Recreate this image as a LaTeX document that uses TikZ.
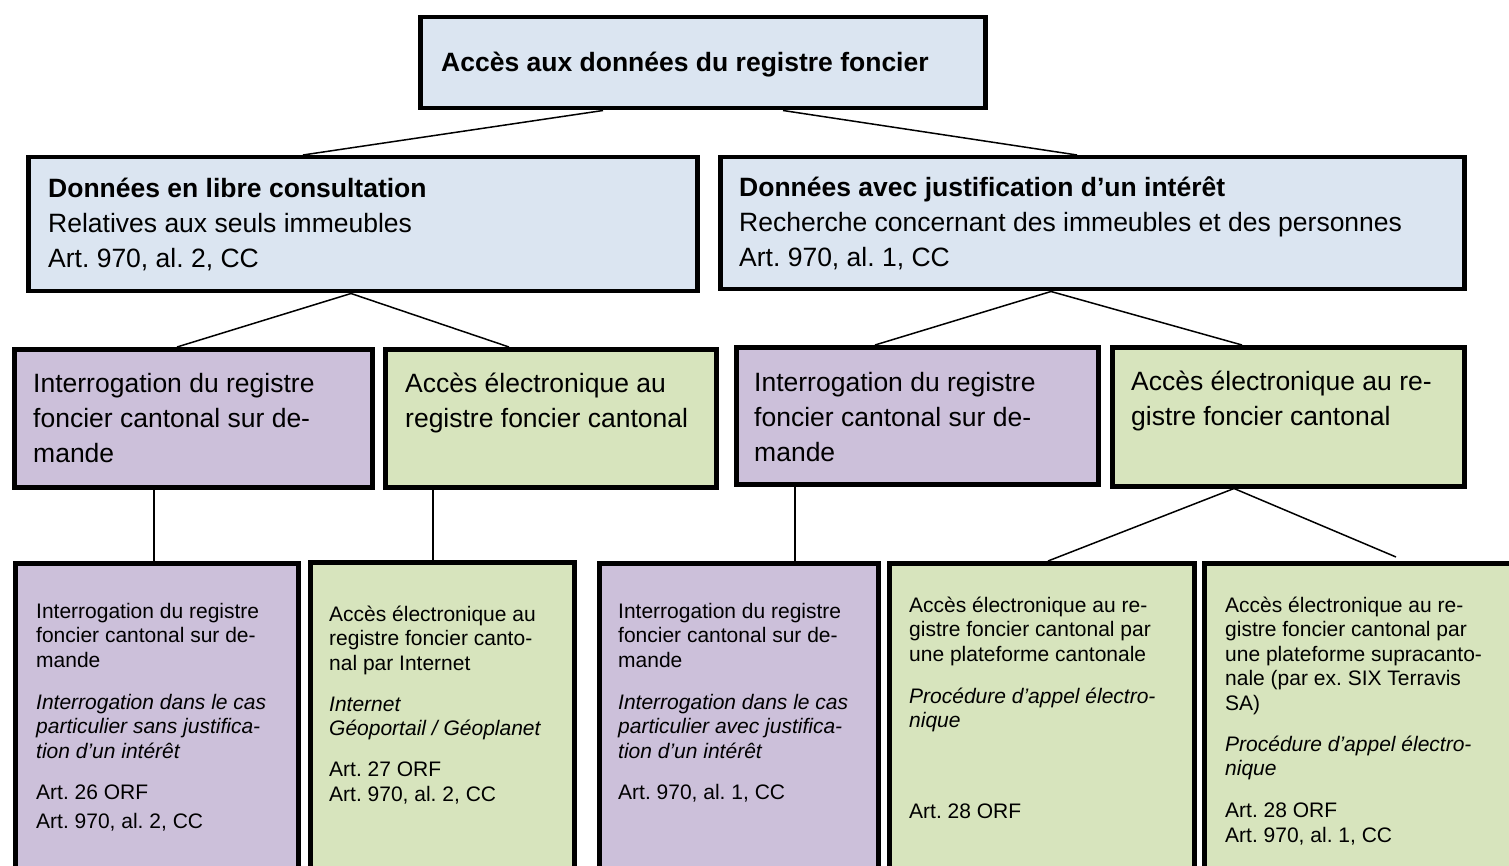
\documentclass[tikz,border=0pt]{standalone}
\usepackage{fontspec}
\setmainfont{Liberation Sans}
\usetikzlibrary{calc}
\frenchspacing
\definecolor{cblue}{HTML}{DBE5F1}
\definecolor{cpurple}{HTML}{CCC0DA}
\definecolor{cgreen}{HTML}{D7E4BD}
\newcommand\mytb[1]{\parbox[t]{900pt}{\raggedright\frenchspacing #1}}
\tikzset{
  box/.style={draw=black, line width=4.5pt, rectangle, inner sep=0pt, anchor=north west},
  conn/.style={draw=black, line width=1.5pt},
  bigt/.style={inner sep=0pt, anchor=base west, font=\fontsize{26.5}{35}\selectfont},
  smallt/.style={inner sep=0pt, anchor=base west, font=\fontsize{21}{24.5}\selectfont}
}
\begin{document}
\begin{tikzpicture}[x=1pt,y=-1pt]
\useasboundingbox (0,0) rectangle (1509,866);
\clip (0,0) rectangle (1509,866);
% top
\node[box, fill=cblue, minimum width=565pt, minimum height=91pt] (top) at (418,15) {};
% row 2
\node[box, fill=cblue, minimum width=669pt, minimum height=134pt] (L) at (26,155) {};
\node[box, fill=cblue, minimum width=744pt, minimum height=132pt] (R) at (718,155) {};
% row 3
\node[box, fill=cpurple, minimum width=358pt, minimum height=138pt] (P1) at (12,347) {};
\node[box, fill=cgreen, minimum width=331pt, minimum height=138pt] (G1) at (383,347) {};
\node[box, fill=cpurple, minimum width=362pt, minimum height=137pt] (P2) at (734,345) {};
\node[box, fill=cgreen, minimum width=352pt, minimum height=139pt] (G2) at (1110,345) {};
% row 4
\node[box, fill=cpurple, minimum width=283pt, minimum height=340pt] (Q1) at (13,561) {};
\node[box, fill=cgreen, minimum width=264pt, minimum height=340pt] (Q2) at (308,560) {};
\node[box, fill=cpurple, minimum width=279pt, minimum height=340pt] (Q3) at (597,561) {};
\node[box, fill=cgreen, minimum width=305pt, minimum height=340pt] (Q4) at (887,561) {};
\node[box, fill=cgreen, minimum width=330pt, minimum height=340pt] (Q5) at (1202,561) {};

% connectors
\draw[conn] ($(top.south west)+(185,0)$) -- ($(L.north west)+(277,0)$);
\draw[conn] ($(top.south west)+(365,0)$) -- ($(R.north west)+(359,0)$);
\draw[conn] ($(L.south west)+(325,0)$) -- ($(P1.north west)+(165,0)$);
\draw[conn] ($(L.south west)+(325,0)$) -- ($(G1.north west)+(126,0)$);
\draw[conn] ($(R.south west)+(333,0)$) -- ($(P2.north west)+(141,0)$);
\draw[conn] ($(R.south west)+(333,0)$) -- ($(G2.north west)+(132,0)$);
\draw[conn] ($(P1.south west)+(142,0)$) -- ($(Q1.north west)+(141,0)$);
\draw[conn] ($(G1.south west)+(50,0)$) -- ($(Q2.north west)+(125,0)$);
\draw[conn] ($(P2.south west)+(61,0)$) -- ($(Q3.north west)+(198,0)$);
\coordinate (q5end) at ($(Q5.north west)+(194,-4)$);
\draw[conn] ($(G2.south west)+(124,0)$) -- ($(Q4.north west)+(161,0)$);
\draw[conn] ($(G2.south west)+(124,0)$) -- (q5end);

% texts
\node[bigt] (ttop) at (441,72) {\mytb{\textbf{Accès aux données du registre foncier}}};
\node[bigt] (tL) at (48,198) {\mytb{\textbf{Données en libre consultation}\\Relatives aux seuls immeubles\\Art. 970, al. 2, CC}};
\node[bigt] (tR) at (739,197) {\mytb{\textbf{Données avec justification d’un intérêt}\\Recherche concernant des immeubles et des personnes\\Art. 970, al. 1, CC}};
\node[bigt] (tP1) at (33,392) {\mytb{Interrogation du registre\\foncier cantonal sur de-\\mande}};
\node[bigt] (tG1) at (405,392) {\mytb{Accès électronique au\\registre foncier cantonal}};
\node[bigt] (tP2) at (754,391) {\mytb{Interrogation du registre\\foncier cantonal sur de-\\mande}};
\node[bigt] (tG2) at (1131,390) {\mytb{Accès électronique au re-\\gistre foncier cantonal}};

\node[smallt] (tQ1) at (36,618) {\mytb{Interrogation du registre\\foncier cantonal sur de-\\mande\\[17.5pt]
\textit{Interrogation dans le cas}\\\textit{particulier sans justifica-}\\\textit{tion d’un intérêt}\\[16.5pt]
Art. 26 ORF\\[4.5pt]Art. 970, al. 2, CC}};
\node[smallt] (tQ2) at (329,621) {\mytb{Accès électronique au\\registre foncier canto-\\nal par Internet\\[16.5pt]
\textit{Internet}\\\textit{Géoportail / Géoplanet}\\[16.5pt]
Art. 27 ORF\\Art. 970, al. 2, CC}};
\node[smallt] (tQ3) at (618,618) {\mytb{Interrogation du registre\\foncier cantonal sur de-\\mande\\[17.5pt]
\textit{Interrogation dans le cas}\\\textit{particulier avec justifica-}\\\textit{tion d’un intérêt}\\[16.5pt]
Art. 970, al. 1, CC}};
\node[smallt] (tQ4) at (909,612) {\mytb{Accès électronique au re-\\gistre foncier cantonal par\\une plateforme cantonale\\[17.5pt]
\textit{Procédure d’appel électro-}\\\textit{nique}\\[66.5pt]
Art. 28 ORF}};
\node[smallt] (tQ5) at (1225,612) {\mytb{Accès électronique au re-\\gistre foncier cantonal par\\une plateforme supracanto-\\nale (par ex. SIX Terravis\\SA)\\[16.5pt]
\textit{Procédure d’appel électro-}\\\textit{nique}\\[17.5pt]
Art. 28 ORF\\Art. 970, al. 1, CC}};
\end{tikzpicture}
\end{document}
